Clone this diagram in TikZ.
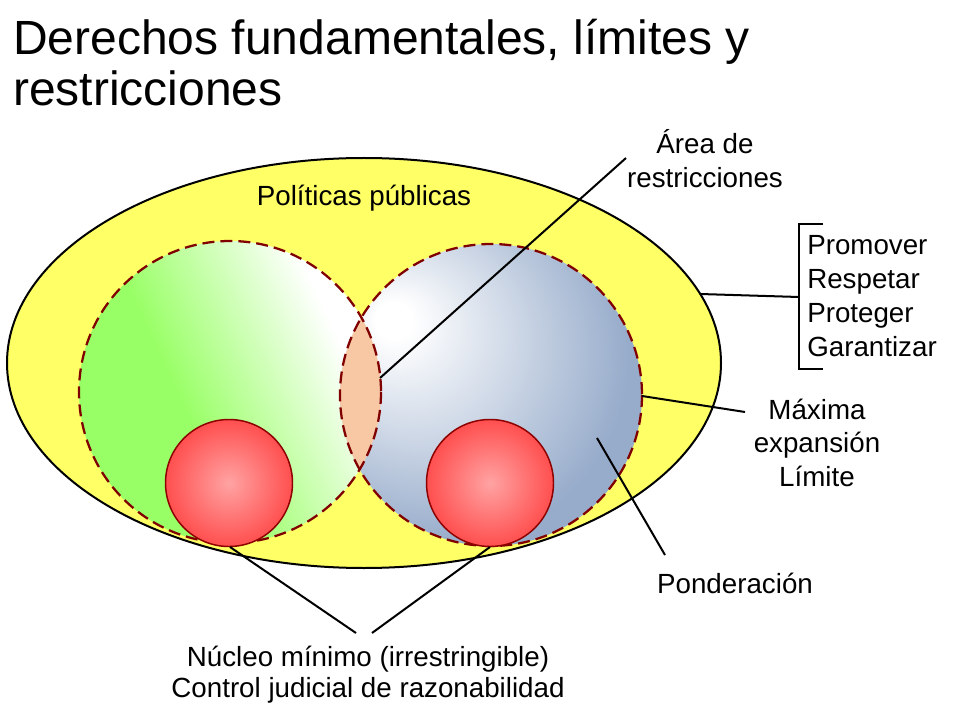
\documentclass[tikz,border=0pt]{standalone}
\usepackage{fontspec}
\setmainfont{Liberation Sans}

\definecolor{polyellow}{HTML}{FFFF66}
\definecolor{derechogreen}{HTML}{99FF66}
\definecolor{limiteblue}{HTML}{97ACCB}
\definecolor{lenspeach}{HTML}{F8C8A4}
\definecolor{nucleored}{HTML}{FF4F4F}
\definecolor{nucleopink}{HTML}{FFA3A3}
\definecolor{borderred}{HTML}{800000}

\pgfdeclarehorizontalshading{derechoshade}{100bp}{color(0bp)=(derechogreen); color(42bp)=(derechogreen); color(70bp)=(white); color(100bp)=(white)}
\pgfdeclareradialshading{limiteshade}{\pgfpoint{-17bp}{13bp}}{color(0bp)=(white); color(3bp)=(white); color(31bp)=(limiteblue); color(60bp)=(limiteblue)}

\tikzset{
  labeltext/.style={font=\fontsize{20.8}{25.5}\selectfont, inner sep=0pt, align=center},
  pointer/.style={line width=1.5pt},
  limitcircle/.style={draw=borderred, line width=1.7pt, dash pattern=on 9pt off 4.5pt},
}

\begin{document}
\begin{tikzpicture}[x=0.75pt, y=-0.75pt]
	\useasboundingbox (0,0) rectangle (960,720);

	\node[anchor=base west, inner sep=0pt, align=left, font=\fontsize{36}{38.5}\selectfont] (title) at (13,106) {Derechos fundamentales, límites y\\restricciones};

	% politicas publicas
	\draw[fill=polyellow, line width=1.5pt] (364,363) ellipse [x radius=357, y radius=205];

	\shade[shading=derechoshade, shading angle=25] (230,392) circle [radius=151];
	\shade[shading=limiteshade] (491,395) circle [radius=151];

	\begin{scope}
		\clip (230,392) circle [radius=151];
		\fill[lenspeach] (491,395) circle [radius=151];
	\end{scope}

	\draw[limitcircle] (230,392) circle [radius=151];
	\draw[limitcircle] (491,395) circle [radius=151];

	\shadedraw[inner color=nucleopink, outer color=nucleored, draw=borderred!90!red, line width=1.1pt] (229,483) circle [radius=63.5];
	\shadedraw[inner color=nucleopink, outer color=nucleored, draw=borderred!90!red, line width=1.1pt] (490,483) circle [radius=63.5];

	\node[labeltext, anchor=base] (politicas) at (364,206) {Políticas públicas};
	\node[labeltext, anchor=base] (area) at (705,188) {Área de\\restricciones};
	\node[labeltext, anchor=base west, align=left] (deberes) at (807,356) {Promover\\Respetar\\Proteger\\Garantizar};
	\node[labeltext, anchor=base, font=\fontsize{20.8}{25}\selectfont] (maxima) at (817,486) {Máxima\\expansión\\Límite};
	\node[labeltext, anchor=base] (ponderacion) at (735,593) {Ponderación};
	\node[labeltext, anchor=base, font=\fontsize{20.8}{23}\selectfont] (nucleo) at (368,697) {Núcleo mínimo (irrestringible)\\Control judicial de razonabilidad};

	\coordinate (lens east) at (380,378);
	\coordinate (area end) at (626,158);
	\coordinate (ellipse east) at (700,294);
	\coordinate (bracket mid) at (799,297);
	\coordinate (limite east) at (642,396);
	\coordinate (maxima end) at (745,412);
	\coordinate (limite inner) at (597,438);
	\coordinate (ponderacion end) at (665,555);
	\coordinate (left core) at (230,547);
	\coordinate (right core) at (490,547);
	\coordinate (nucleo left) at (356,633);
	\coordinate (nucleo right) at (372,633);

	\draw[pointer] (lens east) -- (area end);
	\draw[pointer] (ellipse east) -- (bracket mid);
	\draw[pointer] (823,224) -| (799,369) -- (823,369);
	\draw[pointer] (limite east) -- (maxima end);
	\draw[pointer] (limite inner) -- (ponderacion end);
	\draw[pointer] (left core) -- (nucleo left);
	\draw[pointer] (right core) -- (nucleo right);
\end{tikzpicture}
\end{document}
